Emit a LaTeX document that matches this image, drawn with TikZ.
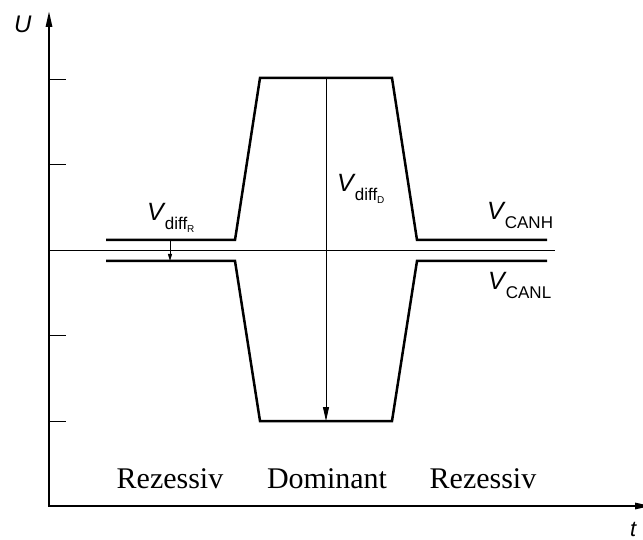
\documentclass[tikz,border=0pt]{standalone}
\usepackage{fontspec}
\setmainfont{Liberation Serif}
\setsansfont{Liberation Sans}
\usetikzlibrary{arrows.meta}
\newcommand{\sigV}[2]{{\sffamily\fontsize{25}{25}\selectfont\itshape V\kern1pt\upshape\raisebox{-#2}{\fontsize{17}{17}\selectfont #1}}}
\newcommand{\subsub}[1]{\raisebox{-3pt}{\fontsize{10}{10}\selectfont #1}}
\tikzset{
  axis/.style={line width=2.8pt},
  signal/.style={line width=2.5pt, line join=miter},
  thin/.style={line width=0.9pt},
  lab/.style={inner sep=0pt, anchor=base west},
  state/.style={inner sep=0pt, anchor=base, font=\fontsize{30}{36}\selectfont}
}
\begin{document}
\begin{tikzpicture}[x=1pt,y=-1pt]
\useasboundingbox (0,0) rectangle (643,540);
% axes
\draw[axis, {Triangle[length=17pt,width=6pt]}-{Triangle[length=17pt,width=6pt]}] (49,10) -- (49,506) -- (652,506);
% ticks
\foreach \yy in {79,164,335,421} \draw[thin] (49,\yy) -- (66,\yy);
\draw[thin] (49,250) -- (555,250);
% signals
\draw[signal] (106,240) -- (235,240) -- (260,78) -- (392,78) -- (417,240) -- (547,240);
\draw[signal] (106,261) -- (235,261) -- (260,421) -- (392,421) -- (417,261) -- (547,261);
% differential arrows
\draw[thin, -{Triangle[length=14pt,width=6pt]}] (326,78) -- (326,421);
\draw[thin, -{Triangle[length=7pt,width=4pt]}] (170,240) -- (170,261);
% labels
\node[lab] (vdr) at (147,221) {\sigV{diff\subsub{R}}{9pt}};
\node[lab] (vdd) at (337,192) {\sigV{diff\subsub{D}}{9pt}};
\node[lab] (vh) at (487,220) {\sigV{CANH}{9pt}};
\node[lab] (vl) at (488,290) {\sigV{CANL}{9pt}};
\node[lab] (u) at (14,33) {\sffamily\itshape\fontsize{24}{24}\selectfont U};
\node[lab] (t) at (630,536) {\sffamily\itshape\fontsize{22}{22}\selectfont t};
\node[state] (r1) at (170,488) {Rezessiv};
\node[state] (d) at (327,488) {Dominant};
\node[state] (r2) at (483,488) {Rezessiv};
\end{tikzpicture}
\end{document}
